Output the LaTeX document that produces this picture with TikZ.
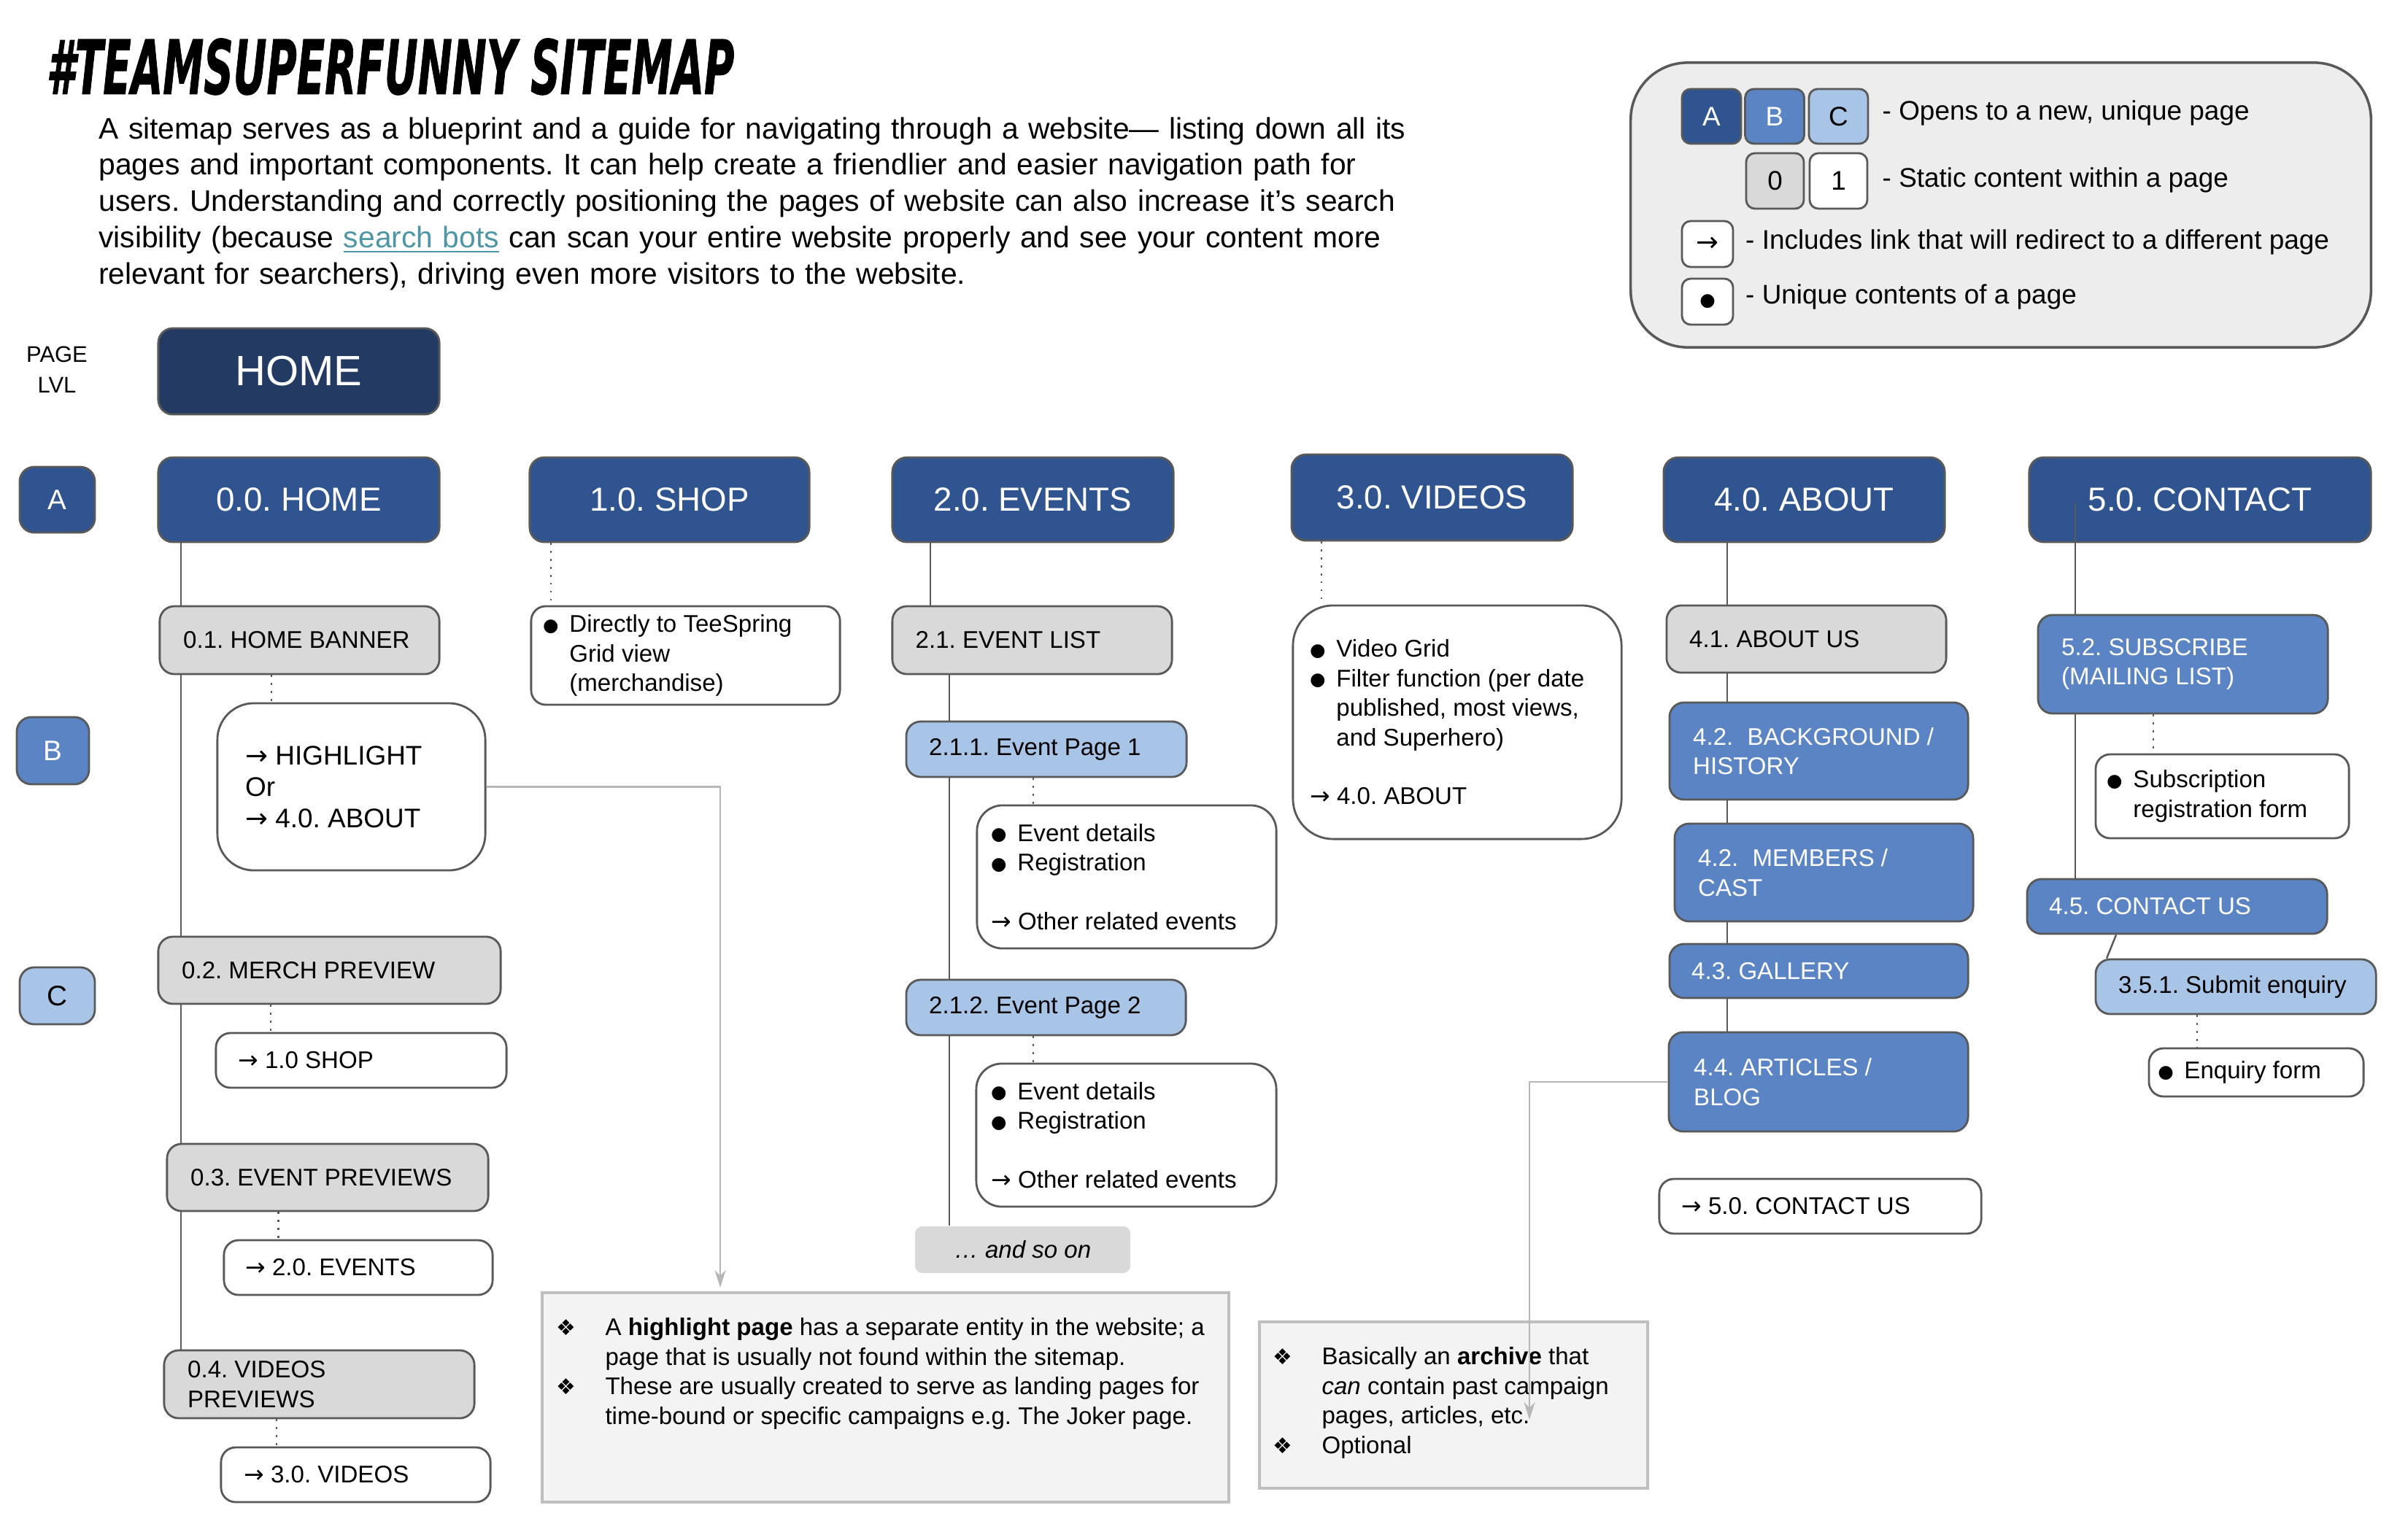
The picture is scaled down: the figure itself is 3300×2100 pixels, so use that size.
\documentclass[tikz,border=0pt]{standalone}
\usepackage{graphicx}
\usepackage{fontspec}
\setmainfont{Liberation Sans}
\newfontfamily\djv{DejaVu Sans}
\newfontfamily\titlefont{DejaVu Sans}[BoldItalicFeatures={FakeBold=1.2}]
\usetikzlibrary{arrows.meta}
\definecolor{navy}{HTML}{233A63}
\definecolor{lvA}{HTML}{30548F}
\definecolor{lvB}{HTML}{5A84C3}
\definecolor{lvC}{HTML}{A8C5E8}
\definecolor{grayfill}{HTML}{D9D9D9}
\definecolor{bord}{HTML}{595959}
\definecolor{notefill}{HTML}{F3F3F3}
\definecolor{noteline}{HTML}{BFBFBF}
\definecolor{arrowgray}{HTML}{B7B7B7}
\definecolor{legfill}{HTML}{EDEDED}
\definecolor{linkc}{HTML}{4E96A6}
\newcommand\fsS{\fontsize{9.4}{11.5}\selectfont}
\newcommand\fsA{\fontsize{13}{15}\selectfont}
\newcommand\fsL{\fontsize{10.5}{12.2}\selectfont}
\newcommand\fsP{\fontsize{11.6}{14.17}\selectfont}
\newcommand\ar{{\djv →}}
\newcommand\bl{\makebox[10.3pt][l]{\raisebox{0.4pt}{\djv\fontsize{7}{7}\selectfont ●}}}
\newcommand\ind{\hspace*{10.3pt}}
\newcommand\dia{\makebox[19pt][l]{\djv\fontsize{8.5}{8.5}\selectfont ❖}}
\newcommand\hind{\hspace*{19pt}}
\tikzset{
  box/.style={draw=bord, line width=0.8pt, rounded corners=0.2cm, inner sep=0pt},
  pA/.style={box, fill=lvA, text=white, font=\fsA, minimum height=1.16cm},
  pB/.style={box, fill=lvB},
  pC/.style={box, fill=lvC},
  pG/.style={box, fill=grayfill},
  pW/.style={box, fill=white},
  txt/.style={inner sep=0pt, anchor=west, align=left, font=\fsS},
  wtxt/.style={txt, text=white},
  conn/.style={draw=bord, line width=0.7pt},
  dotc/.style={draw=bord, line width=0.7pt, dash pattern=on 0.7pt off 2.4pt},
  garrow/.style={draw=arrowgray, line width=0.8pt, -{Stealth[length=2.4mm,width=1.5mm]}},
  note/.style={draw=noteline, line width=1pt, fill=notefill, inner sep=0pt},
  legbox/.style={draw=bord, line width=0.8pt, rounded corners=0.12cm, inner sep=0pt, font=\fsL},
}
\begin{document}
\frenchspacing
\begin{tikzpicture}[x=0.01cm, y=-0.01cm]
\useasboundingbox (0,0) rectangle (3300,2100);

% title and intro
\node[anchor=north west, inner sep=0pt] (title) at (63,52)
  {\resizebox{9.42cm}{0.76cm}{\titlefont\bfseries\itshape \#TEAMSUPERFUNNY SITEMAP}};
\node[anchor=base west, inner sep=0pt, text width=18.4cm, align=left, font=\fsP] (para) at (134.7,190)
  {A sitemap serves as a blueprint and a guide for navigating through a website— listing down all its\\
   pages and important components. It can help create a friendlier and easier navigation path for\\
   users. Understanding and correctly positioning the pages of website can also increase it’s search\\
   visibility (because \textcolor{linkc}{\underline{search bots}} can scan your entire website properly and see your content more\\
   relevant for searchers), driving even more visitors to the website.};

% legend
\node[draw=bord, line width=1pt, fill=legfill, rounded corners=0.78cm, minimum width=10.14cm, minimum height=3.9cm, inner sep=0pt] (legend) at (2742,281) {};
\node[legbox, fill=lvA, text=white, minimum width=0.81cm, minimum height=0.75cm] (lA) at (2345.5,159.5) {A};
\node[legbox, fill=lvB, text=white, minimum width=0.81cm, minimum height=0.75cm] (lB) at (2432,159.5) {B};
\node[legbox, fill=lvC, minimum width=0.81cm, minimum height=0.75cm] (lC) at (2519.5,159.5) {C};
\node[legbox, fill=grayfill, minimum width=0.79cm, minimum height=0.76cm] (l0) at (2432.5,248) {0};
\node[legbox, fill=white, minimum width=0.79cm, minimum height=0.76cm] (l1) at (2519.5,248) {1};
\node[legbox, fill=white, minimum width=0.70cm, minimum height=0.63cm] (lArr) at (2340,334.5) {\ar};
\node[legbox, fill=white, minimum width=0.70cm, minimum height=0.63cm] (lDot) at (2340,413.5) {\djv\fontsize{7}{7}\selectfont ●};
\node[txt, font=\fsL] (lt1) at (2579,155) {- Opens to a new, unique page};
\node[txt, font=\fsL] (lt2) at (2579,247) {- Static content within a page};
\node[txt, font=\fsL] (lt3) at (2391.5,332) {- Includes link that will redirect to a different page};
\node[txt, font=\fsL] (lt4) at (2391.5,407) {- Unique contents of a page};

% level labels
\node[align=center, inner sep=0pt, font=\fontsize{8.8}{11.9}\selectfont] (plvl) at (78,507) {PAGE\\LVL};
\node[box, fill=lvA, text=white, font=\fontsize{11}{13}\selectfont, minimum width=1.03cm, minimum height=0.9cm] (LA) at (78.5,685) {A};
\node[box, fill=lvB, text=white, font=\fontsize{11}{13}\selectfont, minimum width=0.99cm, minimum height=0.92cm] (LB) at (72.5,1029) {B};
\node[box, fill=lvC, font=\fontsize{11}{13}\selectfont, minimum width=1.03cm, minimum height=0.78cm] (LC) at (78.5,1365) {C};

% home and level A
\node[box, fill=navy, text=white, font=\fontsize{16.5}{18}\selectfont, minimum width=3.85cm, minimum height=1.18cm] (home) at (409.5,509) {HOME};
\node[pA, minimum width=3.85cm] (a0) at (409.5,685) {0.0. HOME};
\node[pA, minimum width=3.83cm] (a1) at (917.5,685) {1.0. SHOP};
\node[pA, minimum width=3.85cm] (a2) at (1415.5,685) {2.0. EVENTS};
\node[pA, minimum width=3.85cm, minimum height=1.18cm] (a3) at (1962.5,682) {3.0. VIDEOS};
\node[pA, minimum width=3.85cm] (a4) at (2472.5,685) {4.0. ABOUT};
\node[pA, minimum width=4.68cm] (a5) at (3015,685) {5.0. CONTACT};

% home column
\node[pG, minimum width=3.83cm, minimum height=0.93cm] (b01) at (410.5,877.5) {};
\node[txt] (tb01) at ([xshift=0.33cm]b01.west) {0.1. HOME BANNER};
\node[pW, rounded corners=0.5cm, minimum width=3.67cm, minimum height=2.29cm] (hl) at (481.5,1078.5) {};
\node[txt, font=\fsL] (thl) at ([xshift=0.39cm]hl.west) {\ar\ HIGHLIGHT\\Or\\\ar\ 4.0. ABOUT};
\node[pG, minimum width=4.69cm, minimum height=0.92cm] (b02) at (451.5,1330) {};
\node[txt] (tb02) at ([xshift=0.33cm]b02.west) {0.2. MERCH PREVIEW};
\node[pW, minimum width=3.98cm, minimum height=0.75cm] (r02) at (495,1453.5) {};
\node[txt] (tr02) at ([xshift=0.31cm]r02.west) {\ar\ 1.0 SHOP};
\node[pG, minimum width=4.40cm, minimum height=0.92cm] (b03) at (449,1614) {};
\node[txt] (tb03) at ([xshift=0.33cm]b03.west) {0.3. EVENT PREVIEWS};
\node[pW, minimum width=3.68cm, minimum height=0.75cm] (r03) at (491,1737.5) {};
\node[txt] (tr03) at ([xshift=0.30cm]r03.west) {\ar\ 2.0. EVENTS};
\node[pG, minimum width=4.25cm, minimum height=0.93cm] (b04) at (437.5,1897.5) {};
\node[txt] (tb04) at ([xshift=0.33cm]b04.west) {0.4. VIDEOS\\PREVIEWS};
\node[pW, minimum width=3.69cm, minimum height=0.75cm] (r04) at (487.5,2021.5) {};
\node[txt] (tr04) at ([xshift=0.32cm]r04.west) {\ar\ 3.0. VIDEOS};

% shop column
\node[pW, minimum width=4.23cm, minimum height=1.35cm] (s1) at (939.5,898.5) {};
\node[txt] (ts1) at ([xshift=0.17cm]s1.west) {\bl Directly to TeeSpring\\\ind Grid view\\\ind (merchandise)};

% events column
\node[pG, minimum width=3.83cm, minimum height=0.93cm] (e1) at (1414.5,877.5) {};
\node[txt] (te1) at ([xshift=0.325cm]e1.west) {2.1. EVENT LIST};
\node[pC, minimum width=3.84cm, minimum height=0.76cm] (e11) at (1434,1027) {};
\node[txt] (te11) at ([xshift=0.32cm]e11.west) {2.1.1. Event Page 1};
\node[pW, rounded corners=0.35cm, minimum width=4.10cm, minimum height=1.96cm] (ed1) at (1544,1202) {};
\node[txt] (ted1) at ([xshift=0.20cm]ed1.west) {\bl Event details\\\bl Registration\\[11.5pt]\ar\ Other related events};
\node[pC, minimum width=3.83cm, minimum height=0.76cm] (e12) at (1433.5,1381) {};
\node[txt] (te12) at ([xshift=0.32cm]e12.west) {2.1.2. Event Page 2};
\node[pW, rounded corners=0.35cm, minimum width=4.11cm, minimum height=1.96cm] (ed2) at (1543.5,1556) {};
\node[txt] (ted2) at ([xshift=0.21cm]ed2.west) {\bl Event details\\\bl Registration\\[11.5pt]\ar\ Other related events};
\node[fill=grayfill, rounded corners=0.1cm, minimum width=2.95cm, minimum height=0.64cm, inner sep=0pt, font=\fsS\itshape] (more) at (1401.5,1713) {… and so on};

% videos column
\node[pW, rounded corners=0.55cm, minimum width=4.50cm, minimum height=3.20cm] (v1) at (1997,990) {};
\node[txt] (tv1) at ([xshift=0.24cm]v1.west) {\bl Video Grid\\\bl Filter function (per date\\\ind published, most views,\\\ind and Superhero)\\[11.5pt]\ar\ 4.0. ABOUT};

% about column
\node[pG, minimum width=3.83cm, minimum height=0.92cm] (ab1) at (2475.5,876) {};
\node[txt] (tab1) at ([xshift=0.32cm]ab1.west) {4.1. ABOUT US};
\node[pB, minimum width=4.09cm, minimum height=1.33cm] (ab2) at (2492.5,1029.5) {};
\node[wtxt] (tab2) at ([xshift=0.33cm]ab2.west) {4.2.\hspace{5.5pt}BACKGROUND /\\HISTORY};
\node[pB, minimum width=4.09cm, minimum height=1.34cm] (ab3) at (2499.5,1196) {};
\node[wtxt] (tab3) at ([xshift=0.33cm]ab3.west) {4.2.\hspace{5.5pt}MEMBERS /\\CAST};
\node[pB, minimum width=4.09cm, minimum height=0.74cm] (ab4) at (2492.5,1331) {};
\node[wtxt] (tab4) at ([xshift=0.31cm]ab4.west) {4.3. GALLERY};
\node[pB, minimum width=4.10cm, minimum height=1.36cm] (ab5) at (2492,1483) {};
\node[wtxt] (tab5) at ([xshift=0.35cm]ab5.west) {4.4. ARTICLES /\\BLOG};
\node[pW, minimum width=4.41cm, minimum height=0.75cm] (ab6) at (2494.5,1653.5) {};
\node[txt] (tab6) at ([xshift=0.31cm]ab6.west) {\ar\ 5.0. CONTACT US};

% contact column
\node[pB, minimum width=3.97cm, minimum height=1.35cm] (c52) at (2991.5,910.5) {};
\node[wtxt] (tc52) at ([xshift=0.33cm]c52.west) {5.2. SUBSCRIBE\\(MAILING LIST)};
\node[pW, minimum width=3.47cm, minimum height=1.15cm] (csub) at (3045.5,1091.5) {};
\node[txt] (tcsub) at ([xshift=0.16cm]csub.west) {\bl Subscription\\\ind registration form};
\node[pB, minimum width=4.11cm, minimum height=0.75cm] (c45) at (2983.5,1242.5) {};
\node[wtxt] (tc45) at ([xshift=0.31cm]c45.west) {4.5. CONTACT US};
\node[pC, minimum width=3.84cm, minimum height=0.75cm] (c351) at (3064,1352.5) {};
\node[txt] (tc351) at ([xshift=0.32cm]c351.west) {3.5.1. Submit enquiry};
\node[pW, minimum width=2.94cm, minimum height=0.66cm] (cenq) at (3092,1470) {};
\node[txt] (tcenq) at ([xshift=0.13cm]cenq.west) {\bl Enquiry form};

% notes
\node[note, minimum width=9.40cm, minimum height=2.87cm] (n1) at (1213.5,1915.5) {};
\node[txt] (tn1) at (762,1883) {\dia A \textbf{highlight page} has a separate entity in the website; a\\
  \hind page that is usually not found within the sitemap.\\
  \dia These are usually created to serve as landing pages for\\
  \hind time-bound or specific campaigns e.g. The Joker page.};
\node[note, minimum width=5.32cm, minimum height=2.28cm] (n2) at (1992,1926) {};
\node[txt] (tn2) at (1744,1923) {\dia Basically an \textbf{archive} that\\
  \hind\textit{can} contain past campaign\\
  \hind pages, articles, etc.\\
  \dia Optional};

% guide coordinates
\coordinate (gx0) at (248,0);
\coordinate (gd1) at (372,0);
\coordinate (gd2) at (371,0);
\coordinate (gd3) at (381.6,0);
\coordinate (gd4) at (379,0);
\coordinate (gs) at (755,0);
\coordinate (ge0) at (1275,0);
\coordinate (ge1) at (1301,0);
\coordinate (ged) at (1416,0);
\coordinate (gv) at (1811,0);
\coordinate (ga) at (2367,0);
\coordinate (gc) at (2844,0);
\coordinate (gcd) at (2951,0);
\coordinate (gq1) at (2900,0);
\coordinate (gq2) at (2887,0);
\coordinate (gqd) at (3011,0);
\coordinate (c5top) at (2844,689);
\coordinate (ar1) at (987,1765);
\coordinate (ar2) at (2096,1946);

% connectors: home
\draw[conn] (a0.south -| gx0) -- (b01.north -| gx0);
\draw[conn] (b01.south -| gx0) -- (b02.north -| gx0);
\draw[conn] (b02.south -| gx0) -- (b03.north -| gx0);
\draw[conn] (b03.south -| gx0) -- (b04.north -| gx0);
\draw[dotc] (b01.south -| gd1) -- (hl.north -| gd1);
\draw[dotc] (b02.south -| gd2) -- (r02.north -| gd2);
\draw[dotc] (b03.south -| gd3) -- (r03.north -| gd3);
\draw[dotc] (b04.south -| gd4) -- (r04.north -| gd4);
% shop
\draw[dotc] (a1.south -| gs) -- (s1.north -| gs);
% events
\draw[conn] (a2.south -| ge0) -- (e1.north -| ge0);
\draw[conn] (e1.south -| ge1) -- (e11.north -| ge1);
\draw[conn] (e11.south -| ge1) -- (e12.north -| ge1);
\draw[conn] (e12.south -| ge1) -- (more.north -| ge1);
\draw[dotc] (e11.south -| ged) -- (ed1.north -| ged);
\draw[dotc] (e12.south -| ged) -- (ed2.north -| ged);
% videos
\draw[dotc] (a3.south -| gv) -- (v1.north -| gv);
% about
\draw[conn] (a4.south -| ga) -- (ab1.north -| ga);
\draw[conn] (ab1.south -| ga) -- (ab2.north -| ga);
\draw[conn] (ab2.south -| ga) -- (ab3.north -| ga);
\draw[conn] (ab3.south -| ga) -- (ab4.north -| ga);
\draw[conn] (ab4.south -| ga) -- (ab5.north -| ga);
% contact
\draw[conn] (c5top) -- (c52.north -| gc);
\draw[conn] (c52.south -| gc) -- (c45.north -| gc);
\draw[dotc] (c52.south -| gcd) -- (csub.north -| gcd);
\draw[conn] (c45.south -| gq1) -- (c351.north -| gq2);
\draw[dotc] (c351.south -| gqd) -- (cenq.north -| gqd);
% note arrows
\draw[garrow] (hl.east) -| (ar1);
\draw[garrow] (ab5.west) -| (ar2);
\end{tikzpicture}
\end{document}
